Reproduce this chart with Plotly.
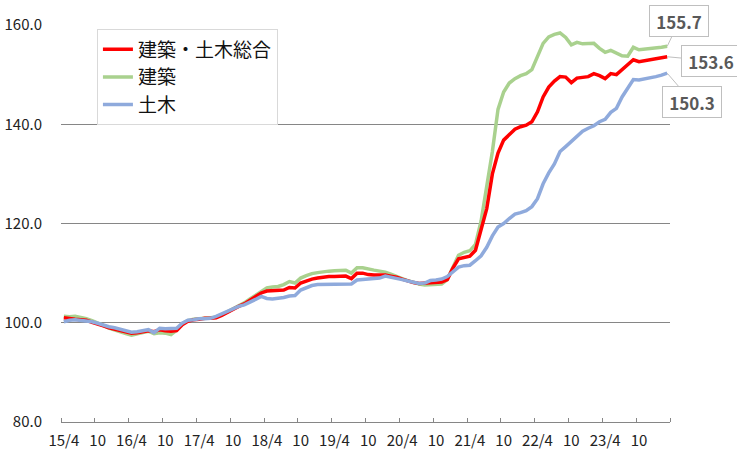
import plotly.graph_objects as go

# Months 2015/4 .. 2024/3 (108 points)
start_year, start_month = 2015, 4
n_months = 108
months = [f"{(start_year + (start_month - 1 + k) // 12) % 100:02d}/{(start_month - 1 + k) % 12 + 1}" for k in range(n_months)]

total = [  # 建築・土木総合
    101.0, 100.8, 100.7, 100.6, 100.5, 100.1, 99.8, 99.4, 99.0, 98.7, 98.5, 98.2,
    97.9, 98.0, 98.2, 98.4, 98.2, 98.6, 98.4, 98.3, 98.4, 99.6, 100.3, 100.6,
    100.7, 100.9, 100.9, 101.0, 101.5, 102.1, 102.8, 103.3, 103.8, 104.5, 105.3, 106.0,
    106.4, 106.5, 106.6, 106.6, 107.1, 107.0, 108.0, 108.4, 108.8, 109.0, 109.2, 109.3,
    109.3, 109.4, 109.4, 108.9, 110.0, 110.0, 109.7, 109.6, 109.6, 109.6, 109.4, 109.2,
    108.8, 108.4, 108.1, 107.9, 108.0, 108.0, 108.1, 108.2, 108.7, 111.0, 112.9, 113.1,
    113.4, 114.6, 118.5, 123.0, 130.0, 134.2, 136.8, 138.0, 139.0, 139.5, 139.8, 140.5,
    142.5, 145.5, 147.5, 148.7, 149.6, 149.5, 148.4, 149.3, 149.5, 149.6, 150.2, 149.8,
    149.2, 150.2, 150.0, 151.0, 152.0, 153.0, 152.6, 152.8, 153.0, 153.2, 153.4, 153.6,
]
building = [  # 建築
    101.3, 101.2, 101.3, 101.1, 100.8, 100.4, 100.0, 99.5, 98.9, 98.5, 98.2, 97.8,
    97.5, 97.7, 98.0, 98.3, 97.8, 98.0, 97.9, 97.6, 98.5, 99.8, 100.4, 100.7,
    100.8, 101.0, 101.0, 101.1, 101.6, 102.2, 102.8, 103.4, 104.0, 104.8, 105.6, 106.4,
    107.0, 107.2, 107.3, 107.7, 108.3, 108.0, 109.0, 109.5, 109.9, 110.1, 110.3, 110.4,
    110.5, 110.5, 110.6, 110.0, 111.1, 111.1, 110.8, 110.6, 110.4, 110.2, 109.8, 109.3,
    108.9, 108.5, 108.1, 107.8, 107.6, 107.7, 107.8, 107.8, 108.7, 111.0, 113.6, 114.2,
    114.5, 115.8, 120.5, 127.5, 134.5, 143.0, 146.5, 148.3, 149.2, 149.8, 150.2, 151.0,
    153.5, 156.3, 157.6, 158.1, 158.4, 157.5, 156.0, 156.5, 156.2, 156.2, 156.3, 155.3,
    154.5, 154.9, 154.3, 153.8, 153.7, 155.5, 155.0, 155.1, 155.2, 155.3, 155.5, 155.7,
]
civil = [  # 土木
    100.2, 100.5, 100.6, 100.5, 100.4, 100.2, 99.9, 99.5, 99.2, 99.0, 98.7, 98.3,
    98.1, 98.2, 98.4, 98.6, 98.0, 98.9, 98.8, 98.8, 98.9, 99.9, 100.5, 100.6,
    100.8, 100.8, 100.9, 101.3, 101.8, 102.4, 102.9, 103.3, 103.6, 104.1, 104.7, 105.3,
    104.9, 104.8, 104.9, 105.1, 105.4, 105.5, 106.6, 107.0, 107.5, 107.7, 107.7, 107.7,
    107.7, 107.7, 107.7, 107.8, 108.6, 108.7, 108.7, 108.8, 109.0, 109.4, 109.2, 109.0,
    108.7, 108.4, 108.1, 107.9, 108.0, 108.5, 108.6, 108.8, 109.3, 110.3, 111.2, 111.5,
    111.6, 112.5, 113.5, 115.2, 117.5, 119.3, 120.0, 121.0, 121.9, 122.2, 122.6, 123.4,
    125.0, 128.0, 130.2, 132.0, 134.5, 135.5, 136.6, 137.5, 138.6, 139.2, 139.7, 140.5,
    141.0, 142.4, 143.2, 145.5, 147.2, 149.0, 148.9, 149.1, 149.3, 149.6, 149.9, 150.3,
]

names = ["建築・土木総合", "建築", "土木"]
colors = ["#FF0000", "#A9D18E", "#8FAADC"]
x_tick_labels = ["15/4", "10", "16/4", "10", "17/4", "10", "18/4", "10", "19/4", "10",
                 "20/4", "10", "21/4", "10", "22/4", "10", "23/4", "10"]
y_ticks = [80, 100, 120, 140, 160]

xs = list(range(n_months))
FONT = "Noto Sans CJK JP, Noto Sans, sans-serif"

fig = go.Figure()
# draw order: green, red, blue (blue on top); legend order red, green, blue
for series, name, color, rank in [(building, names[1], colors[1], 2),
                                  (total, names[0], colors[0], 1),
                                  (civil, names[2], colors[2], 3)]:
    fig.add_trace(go.Scatter(x=xs, y=series, mode="lines", name=name, legendrank=rank,
                             line=dict(color=color, width=3.5), hoverinfo="skip"))

# callouts for last values
last = n_months - 1
for series, off in [(building, (12, -25)), (total, (44, 4)), (civil, (25, 29))]:
    fig.add_annotation(x=xs[last], y=series[last], text=f"{series[last]:.1f}",
                       showarrow=True, arrowhead=0, arrowwidth=1, arrowcolor="#BFBFBF",
                       ax=off[0], ay=off[1], standoff=0,
                       width=50, height=22,
                       font=dict(family=FONT, size=17, color="#595959", weight="bold"),
                       bgcolor="white", bordercolor="#BFBFBF", borderwidth=1, borderpad=4)

fig.update_layout(
    width=737, height=450,
    margin=dict(l=61, r=67, t=25, b=28, autoexpand=False),
    plot_bgcolor="white", paper_bgcolor="white",
    font=dict(family=FONT, size=15, color="#222222"),
    showlegend=True,
    legend=dict(x=0.059, y=0.989, xanchor="left", yanchor="top",
                bgcolor="white", bordercolor="#D9D9D9", borderwidth=1,
                font=dict(family=FONT, size=19, color="#111111"),
                itemwidth=30, tracegroupgap=0),
    xaxis=dict(range=[-0.5, n_months - 0.5], showgrid=False, zeroline=False,
               automargin=False,
               showline=True, linecolor="#868686", linewidth=1,
               tickmode="array", tickvals=xs[::6], ticktext=x_tick_labels,
               ticks="", ticklabelstandoff=5,
               minor=dict(tickmode="array", tickvals=[v - 0.5 for v in range(0, n_months + 1, 6)],
                          ticks="inside", ticklen=4, tickcolor="#868686", tickwidth=1,
                          showgrid=False),
               tickfont=dict(size=15)),
    yaxis=dict(range=[80, 160], tickvals=y_ticks, tickformat=".1f",
               automargin=False,
               showgrid=True, gridcolor="#868686", gridwidth=1, zeroline=False,
               showline=False, ticks="", ticklabelstandoff=18,
               tickfont=dict(size=15)),
)

fig.write_html("out.html", config={"displayModeBar": False},
               post_script="document.body.style.margin='0px';")
